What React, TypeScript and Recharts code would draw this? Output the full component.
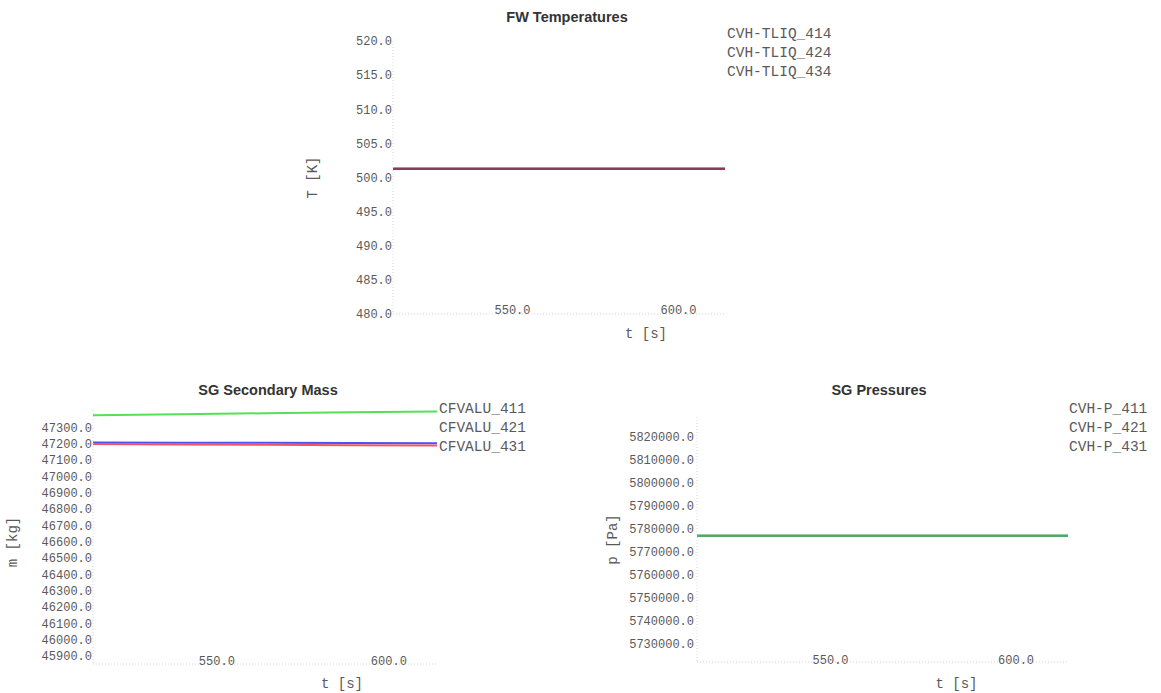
import { LineChart, Line, XAxis, YAxis, Legend } from 'recharts'

// three small plots from a transient run: FW temperatures, SG mass and SG pressure.
// values (lines are nearly flat)

const timeS = [514, 539, 564, 589, 614]
const timeTicks = [550, 600]

const tliq414 = [501.3, 501.3, 501.3, 501.3, 501.3]
const tliq424 = [501.3, 501.3, 501.3, 501.3, 501.3]
const tliq434 = [501.3, 501.3, 501.3, 501.3, 501.3]
const tempTicks = [480, 485, 490, 495, 500, 505, 510, 515, 520]

const cfvalu411 = [47375, 47381, 47387, 47393, 47398]
const cfvalu421 = [47208, 47207, 47206, 47205, 47204]
const cfvalu431 = [47198, 47196, 47194, 47191, 47189]
const massTicks = [
  45900, 46000, 46100, 46200, 46300, 46400, 46500, 46600, 46700, 46800, 46900, 47000, 47100,
  47200, 47300,
]

const p411 = [5777100, 5777100, 5777100, 5777100, 5777100]
const p421 = [5777100, 5777100, 5777100, 5777100, 5777100]
const p431 = [5777100, 5777100, 5777100, 5777100, 5777100]
const pressTicks = [
  5730000, 5740000, 5750000, 5760000, 5770000, 5780000, 5790000, 5800000, 5810000, 5820000,
]

const MONO = '"Liberation Mono", "DejaVu Sans Mono", monospace'
const SANS = '"Liberation Sans", Arial, sans-serif'
const TEXT = '#5a5a5a'
const AXIS = { stroke: '#d6d6d6', strokeDasharray: '1 2' }

const fmt = (v: number) => v.toFixed(1)

const tempData = timeS.map((t, i) => ({ t, a: tliq414[i], b: tliq424[i], c: tliq434[i] }))
const massData = timeS.map((t, i) => ({ t, a: cfvalu411[i], b: cfvalu421[i], c: cfvalu431[i] }))
const pressData = timeS.map((t, i) => ({ t, a: p411[i], b: p421[i], c: p431[i] }))

function LegendNames({ payload }: { payload?: { value: string }[] }) {
  return (
    <div style={{ fontFamily: MONO, fontSize: 14.5, color: TEXT, lineHeight: '19px', whiteSpace: 'pre' }}>
      {(payload || []).map((p) => (
        <div key={p.value}>{p.value}</div>
      ))}
    </div>
  )
}

const yTitle = (text: string, dx: number, dy = 0) => (props: any) => {
  const vb = props.viewBox || { x: 0, y: 0, width: 0, height: 0 }
  const x = vb.x + dx
  const y = vb.y + vb.height / 2 + dy
  return (
    <text
      x={x}
      y={y}
      transform={`rotate(-90 ${x} ${y})`}
      textAnchor="middle"
      dominantBaseline="central"
      fontFamily={MONO}
      fontSize={14}
      fill={TEXT}
    >
      {text}
    </text>
  )
}

const xTitle = (text: string, dx: number, dy: number) => (props: any) => {
  const vb = props.viewBox || { x: 0, y: 0, width: 0, height: 0 }
  return (
    <text
      x={vb.x + vb.width / 2 + dx}
      y={vb.y + dy}
      textAnchor="middle"
      dominantBaseline="central"
      fontFamily={MONO}
      fontSize={14}
      fill={TEXT}
    >
      {text}
    </text>
  )
}

const timeTick = (lift: number) => (props: any) => (
  <text
    x={props.x}
    y={props.y - lift}
    textAnchor="middle"
    dominantBaseline="central"
    fontFamily={MONO}
    fontSize={12}
    fill={TEXT}
  >
    {fmt(props.payload.value)}
  </text>
)

function Title({ text, left, top }: { text: string; left: number; top: number }) {
  return (
    <div
      style={{
        position: 'absolute',
        left,
        top,
        transform: 'translate(-50%, -50%)',
        fontFamily: SANS,
        fontWeight: 'bold',
        fontSize: 14.5,
        color: '#333',
        whiteSpace: 'nowrap',
      }}
    >
      {text}
    </div>
  )
}

export default function App() {
  return (
    <div style={{ position: 'absolute', left: 0, top: 0, width: 1161, height: 693, background: '#fff' }}>
      {/* FW Temperatures */}
      <div style={{ position: 'absolute', left: 300, top: 0 }}>
        <LineChart width={560} height={350} data={tempData} margin={{ top: 41, right: 135, bottom: 16, left: 0 }}>
          <XAxis
            dataKey="t"
            type="number"
            domain={[514, 614]}
            ticks={timeTicks}
            height={20}
            tickSize={0}
            tickMargin={0}
            tickLine={false}
            axisLine={AXIS}
            tick={timeTick(3)}
            label={xTitle('t [s]', 87, 20)}
          />
          <YAxis
            type="number"
            domain={[480, 520]}
            ticks={tempTicks}
            interval={0}
            width={93}
            tickSize={0}
            tickMargin={1}
            tickLine={false}
            axisLine={AXIS}
            tickFormatter={fmt}
            tick={{ fontFamily: MONO, fontSize: 12, fill: TEXT }}
            label={yTitle('T [K]', 13)}
          />
          <Line type="linear" dataKey="a" name="CVH-TLIQ_414" stroke="#8c3a58" strokeWidth={2} dot={false} isAnimationActive={false} />
          <Line type="linear" dataKey="b" name="CVH-TLIQ_424" stroke="#8c3a58" strokeWidth={2} dot={false} isAnimationActive={false} />
          <Line type="linear" dataKey="c" name="CVH-TLIQ_434" stroke="#8c3a58" strokeWidth={2} dot={false} isAnimationActive={false} />
          <Legend
            layout="vertical"
            align="center"
            verticalAlign="middle"
            wrapperStyle={{ left: 427, top: 25 }}
            content={<LegendNames />}
          />
        </LineChart>
        <Title text="FW Temperatures" left={267} top={17} />
      </div>

      {/* SG Secondary Mass */}
      <div style={{ position: 'absolute', left: 0, top: 360 }}>
        <LineChart width={580} height={333} data={massData} margin={{ top: 50, right: 143, bottom: 9, left: 0 }}>
          <XAxis
            dataKey="t"
            type="number"
            domain={[514, 614]}
            ticks={timeTicks}
            height={20}
            tickSize={0}
            tickMargin={0}
            tickLine={false}
            axisLine={AXIS}
            tick={timeTick(2)}
            label={xTitle('t [s]', 77, 20)}
          />
          <YAxis
            type="number"
            domain={[45851, 47407]}
            ticks={massTicks}
            interval={0}
            width={93}
            tickSize={0}
            tickMargin={1}
            tickLine={false}
            axisLine={AXIS}
            tickFormatter={fmt}
            tick={{ fontFamily: MONO, fontSize: 12, fill: TEXT }}
            label={yTitle('m [kg]', 13, 5)}
          />
          <Line type="linear" dataKey="a" name="CFVALU_411" stroke="#55e055" strokeWidth={2} dot={false} isAnimationActive={false} />
          <Line type="linear" dataKey="b" name="CFVALU_421" stroke="#5050f0" strokeWidth={2} dot={false} isAnimationActive={false} />
          <Line type="linear" dataKey="c" name="CFVALU_431" stroke="#f05565" strokeWidth={2} dot={false} isAnimationActive={false} />
          <Legend
            layout="vertical"
            align="center"
            verticalAlign="middle"
            wrapperStyle={{ left: 439, top: 40 }}
            content={<LegendNames />}
          />
        </LineChart>
        <Title text="SG Secondary Mass" left={268} top={30} />
      </div>

      {/* SG Pressures */}
      <div style={{ position: 'absolute', left: 590, top: 360 }}>
        <LineChart width={571} height={333} data={pressData} margin={{ top: 57, right: 93, bottom: 11, left: 0 }}>
          <XAxis
            dataKey="t"
            type="number"
            domain={[514, 614]}
            ticks={timeTicks}
            height={20}
            tickSize={0}
            tickMargin={0}
            tickLine={false}
            axisLine={AXIS}
            tick={timeTick(1)}
            label={xTitle('t [s]', 74, 22)}
          />
          <YAxis
            type="number"
            domain={[5722200, 5828700]}
            ticks={pressTicks}
            interval={0}
            width={107}
            tickSize={0}
            tickMargin={3}
            tickLine={false}
            axisLine={AXIS}
            tickFormatter={fmt}
            tick={{ fontFamily: MONO, fontSize: 12, fill: TEXT }}
            label={yTitle('p [Pa]', 23)}
          />
          <Line type="linear" dataKey="a" name="CVH-P_411" stroke="#4caa64" strokeWidth={2} dot={false} isAnimationActive={false} />
          <Line type="linear" dataKey="b" name="CVH-P_421" stroke="#4caa64" strokeWidth={2} dot={false} isAnimationActive={false} />
          <Line type="linear" dataKey="c" name="CVH-P_431" stroke="#4caa64" strokeWidth={2} dot={false} isAnimationActive={false} />
          <Legend
            layout="vertical"
            align="center"
            verticalAlign="middle"
            wrapperStyle={{ left: 479, top: 40 }}
            content={<LegendNames />}
          />
        </LineChart>
        <Title text="SG Pressures" left={289} top={30} />
      </div>
    </div>
  )
}
